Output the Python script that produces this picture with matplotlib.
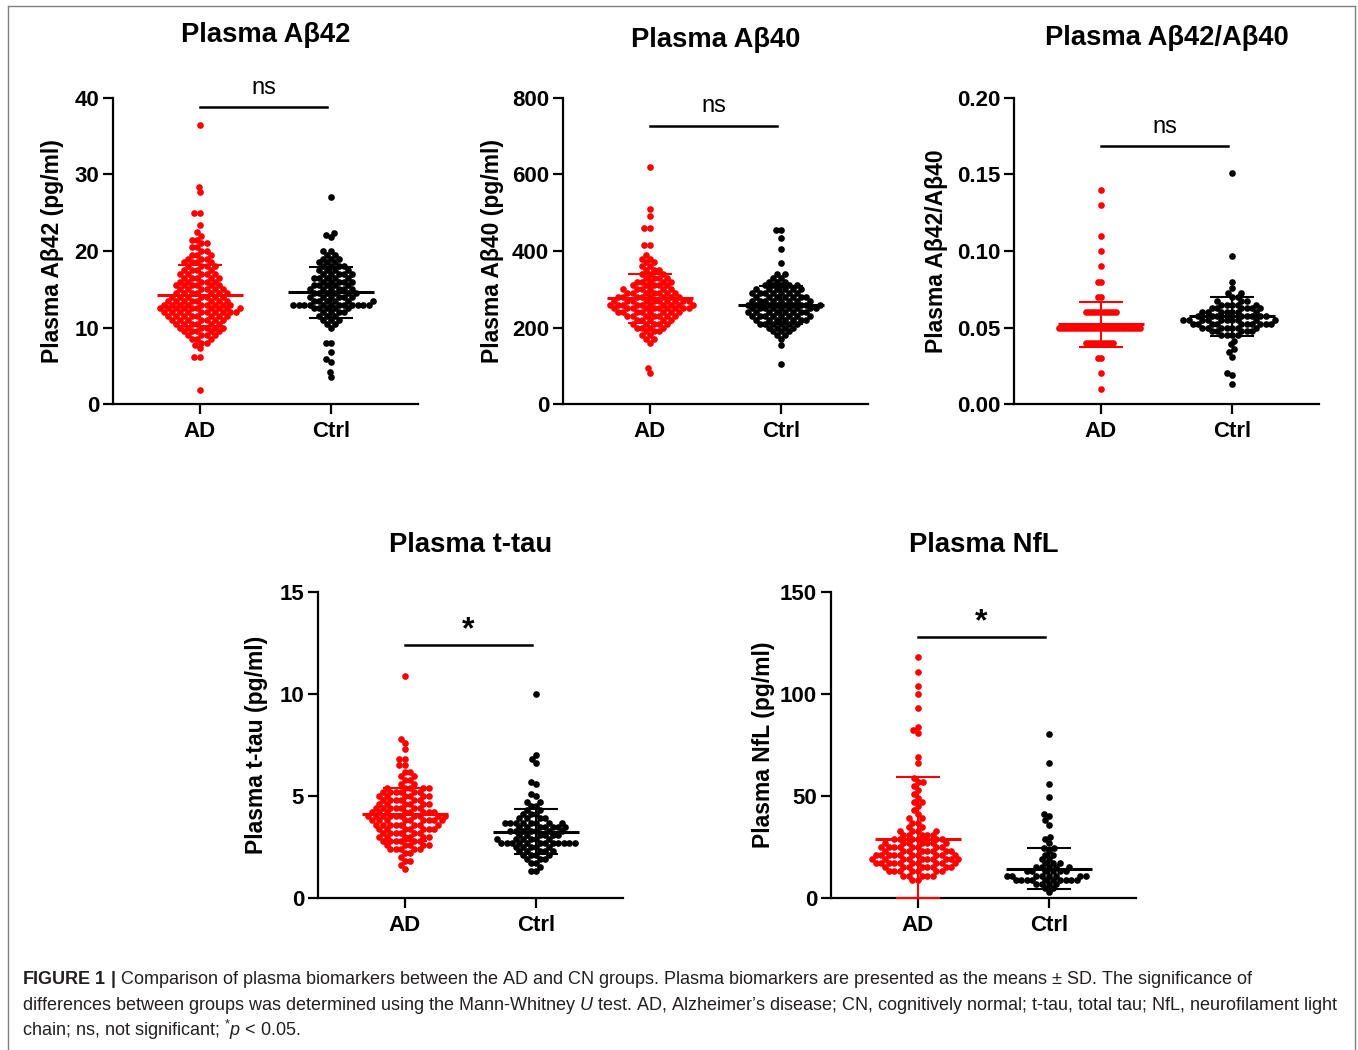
import numpy as np
import matplotlib
matplotlib.use("Agg")
import matplotlib.pyplot as plt
from matplotlib.lines import Line2D

plt.rcParams['font.family'] = ['Liberation Sans', 'DejaVu Sans']
plt.rcParams['mathtext.fontset'] = 'custom'
plt.rcParams['mathtext.rm'] = 'Liberation Sans'
plt.rcParams['mathtext.it'] = 'Liberation Sans:italic'
plt.rcParams['mathtext.bf'] = 'Liberation Sans:bold'

groups = ["AD", "Ctrl"]
colors = ["#ff0000", "#000000"]
titles = ["Plasma Aβ42", "Plasma Aβ40", "Plasma Aβ42/Aβ40", "Plasma t-tau", "Plasma NfL"]
ylabels = ["Plasma Aβ42 (pg/ml)", "Plasma Aβ40 (pg/ml)", "Plasma Aβ42/Aβ40",
           "Plasma t-tau (pg/ml)", "Plasma NfL (pg/ml)"]
yticks = [[0, 10, 20, 30, 40], [0, 200, 400, 600, 800], [0.0, 0.05, 0.10, 0.15, 0.20],
          [0, 5, 10, 15], [0, 50, 100, 150]]
ytick_labels = [["0", "10", "20", "30", "40"], ["0", "200", "400", "600", "800"],
                ["0.00", "0.05", "0.10", "0.15", "0.20"], ["0", "5", "10", "15"],
                ["0", "50", "100", "150"]]
signif = ["ns", "ns", "ns", "*", "*"]
bar_heights = [38.8, 727, 0.1686, 12.4, 127.8]

ab42_ad_v = [1.8, 6.2, 7.3, 7.7, 8.0, 8.5, 9.0, 9.5, 10.0, 10.5, 11.0, 11.5, 12.0, 12.5, 13.0, 13.5,
             14.0, 14.5, 15.0, 15.5, 16.0, 16.5, 17.0, 17.5, 18.0, 18.5, 19.0, 19.5, 20.0, 20.5,
             21.0, 21.5, 22.0, 22.5, 23.4, 25.0, 27.7, 28.4, 36.5]
ab42_ad_n = [1, 2, 1, 1, 2, 3, 4, 5, 6, 6, 7, 8, 10, 10, 9, 8,
             7, 7, 6, 6, 5, 5, 5, 4, 4, 4, 3, 3, 2, 2,
             2, 2, 1, 1, 1, 2, 1, 1, 1]
ab42_ct_v = [3.5, 4.2, 5.5, 5.9, 6.8, 8.0, 10.0, 10.5, 11.0, 11.5, 12.0, 12.5, 13.0, 13.5, 14.0,
             14.5, 15.0, 15.5, 16.0, 16.5, 17.0, 17.5, 18.0, 18.5, 19.0, 19.5, 20.0, 21.8, 22.1,
             22.4, 27.0]
ab42_ct_n = [1, 1, 1, 1, 1, 2, 1, 2, 3, 3, 4, 5, 12, 6, 6,
             6, 6, 5, 5, 5, 5, 4, 4, 3, 3, 2, 2, 1, 1,
             1, 1]

ab40_ad_v = [80, 93, 160, 170, 180, 190, 200, 210, 220, 230, 240, 250, 260, 270, 280, 290, 300,
             310, 320, 330, 340, 350, 360, 370, 380, 390, 416, 459, 491, 510, 620]
ab40_ad_n = [1, 1, 1, 2, 2, 3, 4, 5, 5, 7, 8, 10, 10, 10, 8, 7, 6,
             5, 5, 4, 3, 3, 2, 2, 2, 1, 2, 2, 1, 1, 1]
ab40_ct_v = [104, 154, 170, 180, 190, 200, 210, 220, 230, 240, 250, 260, 270, 280, 290, 300,
             310, 320, 330, 340, 368, 404, 433, 455]
ab40_ct_n = [1, 1, 1, 2, 3, 4, 6, 7, 8, 8, 9, 9, 8, 7, 7, 6,
             5, 3, 2, 2, 1, 1, 1, 2]

ratio_ad_v = [0.01, 0.02, 0.03, 0.04, 0.05, 0.06, 0.07, 0.08, 0.09, 0.10, 0.11, 0.13, 0.14]
ratio_ad_n = [1, 1, 2, 10, 28, 11, 2, 2, 1, 1, 1, 1, 1]
ratio_ct_v = [0.013, 0.019, 0.020, 0.031, 0.034, 0.036, 0.039, 0.0415, 0.045, 0.0475, 0.050,
              0.0525, 0.055, 0.0575, 0.060, 0.0625, 0.065, 0.0675, 0.070, 0.0725, 0.0756,
              0.080, 0.097, 0.151]
ratio_ct_n = [1, 1, 1, 1, 1, 1, 1, 1, 4, 5, 7,
              10, 10, 8, 7, 6, 5, 3, 2, 2, 1,
              1, 1, 1]

tau_ad_v = [1.4, 1.6, 1.8, 2.0, 2.2, 2.4, 2.6, 2.8, 3.0, 3.2, 3.4, 3.6, 3.8, 4.0, 4.2, 4.4, 4.6,
            4.8, 5.0, 5.2, 5.4, 5.6, 5.8, 6.0, 6.2, 6.5, 6.8, 7.3, 7.6, 7.8, 10.9]
tau_ad_n = [1, 1, 2, 1, 2, 5, 5, 6, 6, 6, 7, 8, 9, 10, 8, 7, 6,
            6, 6, 6, 5, 2, 2, 2, 2, 2, 2, 1, 1, 1, 1]
tau_ct_v = [1.3, 1.5, 1.7, 1.9, 2.1, 2.3, 2.5, 2.7, 2.9, 3.1, 3.3, 3.5, 3.7, 3.9, 4.1, 4.3,
            4.5, 4.7, 5.0, 5.1, 5.6, 5.7, 6.6, 6.8, 7.0, 10.0]
tau_ct_n = [2, 1, 2, 3, 4, 5, 5, 12, 6, 6, 7, 7, 8, 4, 3, 2,
            2, 2, 1, 1, 1, 1, 1, 1, 1, 1]

nfl_ad_v = [9, 11, 13, 15, 17, 19, 21, 23, 25, 27, 29, 31, 33, 35, 37, 39, 41, 43, 45, 47, 49,
            51, 53, 55, 57, 59, 66.3, 69, 81, 82.5, 84, 93.3, 100, 104, 111, 118.3]
nfl_ad_n = [2, 5, 7, 8, 10, 10, 10, 8, 8, 7, 6, 5, 4, 2, 2, 2, 1, 1, 1, 2, 1,
            1, 1, 1, 2, 1, 1, 1, 1, 1, 1, 1, 1, 1, 1, 1]
nfl_ct_v = [3, 5, 7, 9, 11, 13, 15, 17, 19, 21, 23, 24.3, 27, 29, 30, 36, 38, 40, 41,
            49.7, 55.9, 66, 80.4]
nfl_ct_n = [1, 2, 4, 10, 8, 6, 5, 3, 2, 2, 1, 2, 1, 1, 1, 1, 1, 1, 1,
            1, 1, 1, 1]

panel_values = [[(ab42_ad_v, ab42_ad_n), (ab42_ct_v, ab42_ct_n)],
                [(ab40_ad_v, ab40_ad_n), (ab40_ct_v, ab40_ct_n)],
                [(ratio_ad_v, ratio_ad_n), (ratio_ct_v, ratio_ct_n)],
                [(tau_ad_v, tau_ad_n), (tau_ct_v, tau_ct_n)],
                [(nfl_ad_v, nfl_ad_n), (nfl_ct_v, nfl_ct_n)]]

# mean and SD per group
means = [[14.2, 14.6], [276, 258], [0.0522, 0.0572], [4.1, 3.25], [28.9, 14.4]]
sds = [[3.95, 3.3], [64, 50], [0.0147, 0.0125], [1.3, 1.1], [30.2, 10.2]]

# layout in pixels of the reference (left, bottom of axes, label and title offsets)
W, H = 1358, 1050
axes_px = [(113, 404), (563, 404), (1014, 404), (318, 898), (831, 898)]
ax_w, ax_h = 305, 306
ylabel_off = [60, 71, 77, 61, 68]
title_off = [63, 58, 60, 47, 47]

DOT = 4.8  # marker size in points
# distance between dot centres in pixels; the rounded ratio values pile up tighter
pack = [[5.5, 5.5], [5.5, 5.5], [3.0, 5.5], [5.5, 5.5], [5.5, 5.5]]


def swarm(ypx, d):
    order = np.argsort(ypx, kind="stable")
    xs = np.zeros(len(ypx))
    px_l, py_l = [], []
    for i in order:
        y = ypx[i]
        near = [(px, py) for px, py in zip(px_l, py_l) if abs(py - y) < d]
        cands = [0.0]
        for px, py in near:
            dx = np.sqrt(d * d - (py - y) ** 2)
            cands += [px - dx, px + dx]
        cands.sort(key=abs)
        for c in cands:
            if all((c - px) ** 2 + (y - py) ** 2 >= d * d - 1e-6 for px, py in near):
                break
        xs[i] = c
        px_l.append(c)
        py_l.append(y)
    return xs


fig = plt.figure(figsize=(W / 100, H / 100), dpi=100)

for k in range(5):
    left, bottom = axes_px[k]
    ax = fig.add_axes([left / W, (H - bottom) / H, ax_w / W, ax_h / H])
    ymax = yticks[k][-1]
    ax.set_ylim(0, ymax)
    ax.set_xlim(-0.664, 1.664)
    px_y = ax_h / ymax
    px_x = ax_w / 2.328

    for g in range(2):
        v, n = panel_values[k][g]
        vals = np.repeat(np.array(v, dtype=float), n)
        offs = swarm(vals * px_y, pack[k][g])
        ax.plot(g + offs / px_x, vals, 'o', ms=DOT, mec='none', color=colors[g],
                clip_on=False, zorder=3)
        m, s = means[k][g], sds[k][g]
        lo = max(m - s, 0)
        ax.plot([g - 0.33, g + 0.33], [m, m], color=colors[g], lw=2.2, zorder=4,
                solid_capstyle='butt')
        ax.plot([g - 0.165, g + 0.165], [m + s, m + s], color=colors[g], lw=1.5, zorder=4,
                solid_capstyle='butt')
        ax.plot([g - 0.165, g + 0.165], [lo, lo], color=colors[g], lw=1.5, zorder=4,
                solid_capstyle='butt', clip_on=False)
        ax.plot([g, g], [lo, m + s], color=colors[g], lw=1.5, zorder=4)

    # significance bar
    ax.plot([0.0, 0.97], [bar_heights[k], bar_heights[k]], color='black', lw=1.8,
            clip_on=False)
    if signif[k] == "ns":
        ax.annotate("ns", (0.485, bar_heights[k]), xytext=(0, 14), textcoords='offset points',
                    ha='center', va='center', fontsize=17)
    else:
        ax.annotate("*", (0.485, bar_heights[k]), xytext=(0, 11), textcoords='offset points',
                    ha='center', va='center', fontsize=23, fontweight='bold')

    ax.spines['top'].set_visible(False)
    ax.spines['right'].set_visible(False)
    for sp in ['left', 'bottom']:
        ax.spines[sp].set_linewidth(1.6)
    ax.set_xticks([0, 1])
    ax.set_xticklabels(groups, fontweight='bold')
    ax.set_yticks(yticks[k])
    ax.set_yticklabels(ytick_labels[k], fontweight='bold')
    ax.tick_params(direction='out', length=7, width=1.6, labelsize=16, pad=3)
    ax.tick_params(axis='x', pad=5.5)
    ax.set_ylabel(ylabels[k], fontsize=16.5, fontweight='bold', va='center')
    ax.yaxis.set_label_coords(-ylabel_off[k] / ax_w, 0.5)
    ax.text(0.5, 1 + title_off[k] / ax_h, titles[k], transform=ax.transAxes,
            ha='center', va='center', fontsize=19.7, fontweight='bold')

# frame around the figure
frame = dict(color='#808080', lw=1.0, transform=fig.transFigure)
fig.add_artist(Line2D([8 / W, 1355 / W], [1 - 6 / H, 1 - 6 / H], **frame))
fig.add_artist(Line2D([8 / W, 8 / W], [0, 1 - 6 / H], **frame))
fig.add_artist(Line2D([1355 / W, 1355 / W], [0, 1 - 6 / H], **frame))

caption = [
    r"$\mathbf{FIGURE\ 1\ |}$ Comparison of plasma biomarkers between the AD and CN groups. "
    r"Plasma biomarkers are presented as the means ± SD. The significance of",
    r"differences between groups was determined using the Mann-Whitney $\mathit{U}$ test. "
    r"AD, Alzheimer’s disease; CN, cognitively normal; t-tau, total tau; NfL, neurofilament light",
    r"chain; ns, not significant; $^{*}\mathit{p}$ < 0.05.",
]
for i, line in enumerate(caption):
    fig.text(22 / W, 1 - (980 + 25 * i) / H, line, ha='left', va='center',
             fontsize=13, color='#231f20')

fig.savefig("out.png", dpi=100)
